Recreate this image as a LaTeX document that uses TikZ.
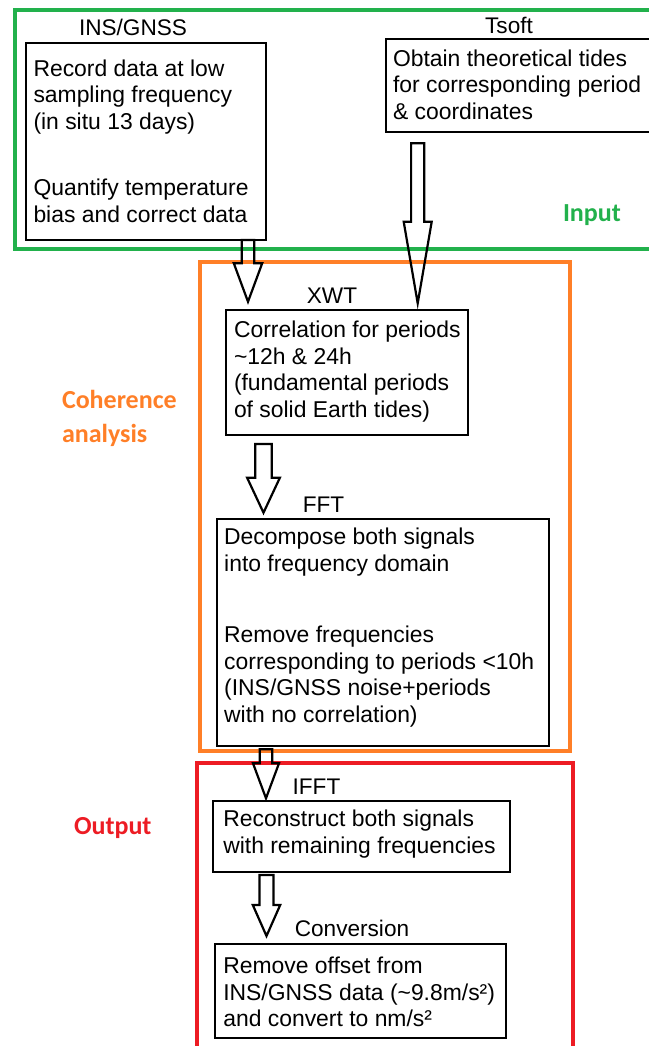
\documentclass[tikz,border=0pt]{standalone}
\usepackage{fontspec}
\setmainfont{Liberation Sans}
\newfontfamily\calfont{Carlito}
\usetikzlibrary{calc}
\definecolor{pgreen}{RGB}{34,177,76}
\definecolor{porange}{RGB}{255,127,39}
\definecolor{pred}{RGB}{237,28,36}
\newcommand{\blockarrow}[5]{%
  \draw[blockarrow] ($(#1)+(-#3,0)$) -- ($(#2)+(-#3,-#5)$) -- ($(#2)+(-#4,-#5)$) -- (#2)
    -- ($(#2)+(#4,-#5)$) -- ($(#2)+(#3,-#5)$) -- ($(#1)+(#3,0)$) -- cycle;}
\begin{document}
\begin{tikzpicture}[x=1pt,y=-1pt,
  box/.style={draw=black, line width=2.3pt, anchor=north west, inner sep=0pt, outer sep=0pt},
  txt/.style={anchor=north west, align=left, inner sep=0pt, outer sep=0pt,
    font=\fontsize{22.9}{26.6}\selectfont},
  tag/.style={anchor=base, inner sep=0pt, outer sep=0pt, font=\fontsize{22.6}{26.6}\selectfont},
  grouplabel/.style={anchor=north west, align=left, inner sep=0pt, outer sep=0pt,
    font=\calfont\bfseries\fontsize{26}{33.4}\selectfont},
  frame/.style={line width=4pt},
  blockarrow/.style={draw=black, line width=2.2pt, line join=miter}
]
\useasboundingbox (0,0) rectangle (648,1046);
\fill[white] (0,0) rectangle (648,1046);

% frames
\draw[frame, pgreen] (15,10.5) rectangle (665,248.5);
\draw[frame, porange] (200,261.5) rectangle (570,751);
\draw[frame, pred] (197,763) rectangle (573,1070);

% group labels
\node[grouplabel, text=pgreen, anchor=base west] (lin) at (563,221.7) {Input};
\node[grouplabel, text=porange] (lcoh) at (62,390.5) {Coherence\\analysis};
\node[grouplabel, text=pred, anchor=base west] (lout) at (74,834) {Output};

% boxes
\node[box, minimum width=240pt, minimum height=197pt] (ins) at (26,43) {};
\node[box, minimum width=280pt, minimum height=93pt] (tsoft) at (386,39) {};
\node[box, minimum width=242pt, minimum height=125pt] (xwt) at (226,310) {};
\node[box, minimum width=332pt, minimum height=227pt] (fft) at (217,519) {};
\node[box, minimum width=297pt, minimum height=71pt] (ifft) at (213,801) {};
\node[box, minimum width=291pt, minimum height=94pt] (conv) at (215,944) {};

% box texts
\node[txt] (ins-t) at (33.5,59.6) {Record data at low\\sampling frequency\\(in situ 13 days)\\[40pt]Quantify temperature\\bias and correct data};
\node[txt] (tsoft-t) at (393,49.6) {Obtain theoretical tides\\for corresponding period\\\& coordinates};
\node[txt] (xwt-t) at (234,320.9) {Correlation for periods\\\textasciitilde12h \& 24h\\(fundamental periods\\of solid Earth tides)};
\node[txt] (fft-t) at (224.2,527.9) {Decompose both signals\\into frequency domain\\[45pt]Remove frequencies\\corresponding to periods <10h\\(INS/GNSS noise+periods\\with no correlation)};
\node[txt] (ifft-t) at (223.3,810.3) {Reconstruct both signals\\with remaining frequencies};
\node[txt] (conv-t) at (223.3,956.9) {Remove offset from\\INS/GNSS data (\textasciitilde9.8m/s²)\\and convert to nm/s²};

% tags
\node[tag] (ins-l) at (133,36) {INS/GNSS};
\node[tag] (tsoft-l) at (509,33.3) {Tsoft};
\node[tag] (xwt-l) at (332,303) {XWT};
\node[tag] (fft-l) at (323.5,512.7) {FFT};
\node[tag] (ifft-l) at (316.5,794) {IFFT};
\node[tag] (conv-l) at (352,936.7) {Conversion};

% arrow end points
\path (ins.south west) ++(222,0) coordinate (a1s);
\path (xwt.north west) ++(22,-8.3) coordinate (a1e);
\path (tsoft.south west) ++(31.7,11.3) coordinate (a2s);
\path (xwt.north west) ++(191.7,-6.7) coordinate (a2e);
\path (xwt.south west) ++(37.5,9) coordinate (a3s);
\path (fft.north west) ++(46.5,-6.3) coordinate (a3e);
\path (fft.south west) ++(49,3.3) coordinate (a4s);
\path (ifft.north west) ++(53,-2.7) coordinate (a4e);
\path (ifft.south west) ++(53.5,3) coordinate (a5s);
\path (conv.north west) ++(51.5,-8) coordinate (a5e);

\blockarrow{a1s}{a1e}{6.3}{14.2}{38.4}
\blockarrow{a2s}{a2e}{6.6}{14}{81.6}
\blockarrow{a3s}{a3e}{8.3}{16.4}{35}
\blockarrow{a4s}{a4e}{6.2}{13}{35}
\blockarrow{a5s}{a5e}{7}{13.7}{31}
\end{tikzpicture}
\end{document}
